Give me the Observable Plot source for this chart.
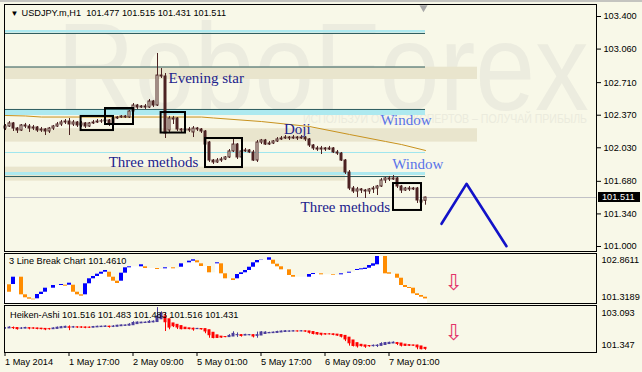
<!DOCTYPE html>
<html><head><meta charset="utf-8">
<script src="https://cdn.jsdelivr.net/npm/d3@7"></script>
<script src="https://cdn.jsdelivr.net/npm/@observablehq/plot@0.6"></script>
<style>
html,body{margin:0;padding:0;background:#f8f8e8;}
#wrap{position:relative;width:642px;height:372px;overflow:hidden;background:#f8f8e8;font-family:"Liberation Sans",Arial,sans-serif;}
#wrap > *{position:absolute;left:0;}
.wm{color:#ececdf;white-space:nowrap;line-height:1;}
</style></head>
<body><div id="wrap"></div>
<script>
// ---------------- data ----------------
const symbolHeader = "USDJPY.m,H1  101.477 101.515 101.431 101.511";
const lbHeader = "3 Line Break Chart 101.4610";
const haHeader = "Heiken-Ashi 101.516 101.483 101.483 101.516 101.431";
const tickBars = [0, 16, 32, 48, 64, 80, 96];
const tickLabels = ["1 May 2014", "1 May 17:00", "2 May 09:00", "5 May 01:00", "5 May 17:00", "6 May 09:00", "7 May 01:00"];
const priceTicks = [103.400, 103.060, 102.710, 102.370, 102.030, 101.680, 101.340, 101.000];
const lbScale = [102.8611, 101.3189];
const haScale = [103.093, 101.347];
const lastPrice = 101.511;

const open = [
102.231,102.252,102.284,102.231,102.210,102.263,102.252,102.231,102.242,102.210,
102.221,102.200,102.231,102.252,102.273,102.294,102.304,102.273,102.294,102.263,
102.284,102.252,102.284,102.294,102.304,102.306,102.315,102.284,102.336,102.346,
102.357,102.346,102.409,102.471,102.450,102.461,102.450,102.513,102.471,102.784,
102.774,102.210,102.325,102.336,102.221,102.210,102.221,102.190,102.231,102.221,
102.200,102.085,101.897,101.877,101.897,101.908,101.929,101.992,102.064,101.929,
101.992,102.002,101.981,101.897,102.085,102.106,102.064,102.075,102.096,102.117,
102.127,102.137,102.127,102.137,102.127,102.137,102.117,102.054,102.023,102.012,
102.023,102.012,102.023,101.981,101.970,101.897,101.772,101.605,101.574,101.595,
101.584,101.574,101.595,101.605,101.626,101.689,101.710,101.699,101.710,101.626,
101.584,101.605,101.595,101.605,101.480,101.477];
const high = [
102.273,102.304,102.294,102.242,102.273,102.284,102.273,102.263,102.252,102.242,
102.231,102.242,102.263,102.294,102.315,102.325,102.336,102.315,102.304,102.304,
102.294,102.294,102.315,102.325,102.325,102.336,102.325,102.346,102.357,102.367,
102.367,102.419,102.492,102.482,102.471,102.482,102.534,102.524,103.014,102.857,
102.805,102.357,102.357,102.346,102.231,102.231,102.242,102.252,102.242,102.231,
102.210,102.096,101.908,101.918,101.929,101.939,102.012,102.117,102.075,102.002,
102.023,102.012,102.002,102.106,102.117,102.117,102.096,102.106,102.137,102.148,
102.158,102.148,102.158,102.148,102.158,102.148,102.127,102.064,102.044,102.044,
102.033,102.044,102.033,102.002,101.981,101.908,101.793,101.626,101.616,101.605,
101.595,101.605,101.626,101.637,101.710,101.720,101.731,101.741,101.720,101.637,
101.616,101.626,101.616,101.616,101.490,101.515];
const low = [
102.210,102.242,102.200,102.179,102.200,102.231,102.190,102.210,102.190,102.190,
102.158,102.179,102.210,102.242,102.252,102.273,102.158,102.252,102.242,102.242,
102.231,102.242,102.273,102.284,102.284,102.294,102.252,102.273,102.325,102.336,
102.336,102.336,102.398,102.430,102.440,102.430,102.440,102.450,102.461,102.753,
102.127,102.190,102.273,102.200,102.190,102.200,102.190,102.137,102.200,102.179,
102.044,101.877,101.856,101.866,101.877,101.897,101.918,101.981,101.908,101.918,
101.981,101.970,101.887,101.877,102.064,102.054,102.054,102.064,102.085,102.106,
102.117,102.106,102.117,102.106,102.117,102.096,102.033,102.002,101.992,101.960,
101.992,102.002,101.970,101.950,101.887,101.751,101.584,101.553,101.511,101.553,
101.501,101.543,101.553,101.532,101.616,101.657,101.678,101.689,101.605,101.553,
101.574,101.574,101.584,101.449,101.449,101.431];
const close = [
102.252,102.284,102.231,102.210,102.263,102.252,102.231,102.242,102.210,102.221,
102.200,102.231,102.252,102.273,102.294,102.304,102.273,102.294,102.263,102.284,
102.252,102.284,102.294,102.304,102.306,102.315,102.284,102.336,102.346,102.357,
102.346,102.409,102.471,102.450,102.461,102.450,102.513,102.471,102.784,102.774,
102.179,102.336,102.336,102.221,102.210,102.221,102.210,102.231,102.221,102.200,
102.064,101.897,101.877,101.897,101.908,101.929,101.992,102.064,101.929,101.992,
102.002,101.981,101.897,102.085,102.106,102.064,102.075,102.096,102.117,102.127,
102.137,102.127,102.137,102.127,102.137,102.117,102.054,102.023,102.012,102.023,
102.012,102.023,101.981,101.970,101.897,101.772,101.605,101.574,101.595,101.584,
101.574,101.595,101.605,101.626,101.689,101.710,101.699,101.710,101.626,101.584,
101.605,101.595,101.605,101.480,101.459,101.511];

// moving average (read at knots)
const maBar = [0, 5, 9, 49, 52, 64, 76, 86, 95, 99, 105];
const maVal = [102.367, 102.362, 102.351, 102.351, 102.341, 102.304, 102.252, 102.169, 102.096, 102.064, 102.002];

// support / resistance drawing objects
const levelLines = [103.223, 102.873, 102.430, 101.730];
const cyanTop = [103.254, 102.424, 101.772];
const cyanBottom = [103.228, 102.367, 101.741];
const cyanThin = [101.981];
const levelEndBar = 105;
const shadeTop = [102.871, 102.229, 101.828];
const shadeBottom = [102.743, 102.089, 101.682];
const shadeEndBar = [118, 118, 85];
const shiftMarkBar = 104.5;

// pattern boxes
const boxX1 = [18.9, 25, 38.9, 50, 97];
const boxX2 = [27, 32, 45, 59.25, 104];
const boxTop = [102.357, 102.440, 102.398, 102.127, 101.657];
const boxBottom = [102.210, 102.273, 102.184, 101.824, 101.376];

// annotations
const noteText = ["Evening star", "Doji", "Three methods", "Three methods", "Window", "Window"];
const noteBar = [40.75, 69.6, 25.8, 73.75, 93.75, 96.7];
const notePrice = [102.754, 102.226, 101.885, 101.408, 102.323, 101.861];
const noteKind = ["pattern", "pattern", "pattern", "pattern", "gap", "gap"];

// forecast zigzag
const fcBar = [109, 115.25, 125.25];
const fcPrice = [101.237, 101.654, 101.003];

// 3 line break (1 = up line, -1 = down line, 0 = no new line)
const lbDir = [
0,-1,1,0,-1,-1,-1,-1,1,1,
1,0,1,0,1,-1,1,-1,-1,-1,
1,1,1,1,1,1,-1,-1,-1,1,
1,1,0,0,1,-1,0,0,-1,0,
1,0,-1,0,1,0,1,1,-1,-1,
0,-1,0,1,-1,-1,0,-1,1,1,
1,1,1,1,1,0,1,-1,-1,-1,
0,-1,-1,0,0,0,1,1,0,-1,
0,0,-1,0,1,0,1,0,1,1,
1,1,1,1,0,-1,-1,0,-1,-1,
-1,-1,-1,-1,-1,-1];
const lbHi = [
101.896,101.896,102.130,102.130,102.130,101.587,101.495,101.452,101.597,101.667,
101.791,101.791,101.874,101.874,101.905,101.883,101.945,101.883,101.667,101.587,
101.927,102.081,102.152,102.223,102.284,102.337,102.284,102.130,102.007,102.254,
102.420,102.451,102.451,102.451,102.513,102.451,102.398,102.398,102.398,102.368,
102.420,102.420,102.420,102.389,102.543,102.543,102.624,102.667,102.636,102.543,
102.460,102.460,102.266,102.574,102.543,102.235,102.081,102.081,102.213,102.266,
102.337,102.438,102.574,102.645,102.654,102.654,102.729,102.654,102.531,102.451,
102.358,102.358,102.183,102.130,102.130,102.130,102.213,102.244,102.244,102.235,
102.204,102.204,102.213,102.192,102.235,102.235,102.284,102.284,102.368,102.389,
102.408,102.491,102.543,102.769,102.769,102.769,102.266,102.223,102.223,102.099,
101.874,101.812,101.791,101.618,101.566,101.513];
const lbLo = [
101.896,101.667,101.905,102.130,101.587,101.495,101.452,101.433,101.464,101.597,
101.667,101.791,101.791,101.874,101.874,101.853,101.883,101.667,101.587,101.545,
101.587,101.927,102.081,102.152,102.223,102.284,102.130,102.007,101.936,102.007,
102.254,102.420,102.451,102.451,102.451,102.398,102.398,102.398,102.368,102.368,
102.389,102.420,102.389,102.389,102.438,102.543,102.574,102.624,102.574,102.460,
102.460,102.266,102.266,102.543,102.235,102.081,102.081,102.028,102.081,102.213,
102.266,102.337,102.438,102.574,102.645,102.654,102.654,102.531,102.451,102.358,
102.358,102.183,102.130,102.130,102.130,102.130,102.130,102.213,102.244,102.204,
102.204,102.204,102.192,102.192,102.204,102.235,102.254,102.284,102.337,102.358,
102.368,102.408,102.469,102.513,102.769,102.235,102.223,102.223,102.099,101.874,
101.812,101.782,101.618,101.566,101.513,101.461];

// ---------------- rendering ----------------
const BG = "#f8f8e8";
const CANDLE = "#4c2222";
const font = "'Liberation Sans', Arial, sans-serif";
const serif = "'Liberation Serif', 'Times New Roman', serif";
const xDomain = [-0.25, 147.75];
const baseStyle = {fontFamily: font, fontSize: "9.2px", background: "transparent", color: "black", overflow: "visible"};
const wrap = document.getElementById("wrap");

function place(el, top, left) {
  el.style.position = "absolute";
  el.style.left = (left || 0) + "px";
  el.style.top = top + "px";
  wrap.appendChild(el);
  return el;
}

// top strip of the terminal window
const strip = document.createElement("div");
Object.assign(strip.style, {width: "642px", height: "2px", background: "#c4c4c0"});
place(strip, 0);

// watermark (background decoration)
const wm = document.createElement("div");
wm.className = "wm";
wm.textContent = "RoboForex";
Object.assign(wm.style, {fontSize: "125px", fontFamily: font, transform: "scaleX(0.86)", transformOrigin: "left top"});
place(wm, 4, 57);
const tag = document.createElement("div");
tag.className = "wm";
tag.textContent = "ИСПОЛЬЗУЙ ОПЫТ ЭКСПЕРТОВ – ПОЛУЧАЙ ПРИБЫЛЬ";
Object.assign(tag.style, {fontSize: "12px", fontFamily: font, color: "#ebebdd", transformOrigin: "left top"});
place(tag, 113, 303);
const tw = tag.getBoundingClientRect().width;
tag.style.transform = "scaleX(" + (284 / tw) + ")";

const bars = d3.range(close.length).map(i => ({i, o: open[i], h: high[i], l: low[i], c: close[i]}));
const shades = shadeTop.map((t, k) => ({t, b: shadeBottom[k], e: shadeEndBar[k]}));
const cyans = cyanTop.map((t, k) => ({t, b: cyanBottom[k]}));
const boxes = boxX1.map((x1, k) => ({x1, x2: boxX2[k], t: boxTop[k], b: boxBottom[k]}));
const notes = noteText.map((s, k) => ({s, x: noteBar[k], y: notePrice[k], kind: noteKind[k]}));
const ma = maBar.map((x, k) => ({x, y: maVal[k]}));
const fc = fcBar.map((x, k) => ({x, y: fcPrice[k]}));

const main = Plot.plot({
  width: 642, height: 252,
  marginLeft: 4, marginRight: 46, marginTop: 4, marginBottom: 1,
  style: baseStyle,
  x: {domain: xDomain, axis: null, label: null},
  y: {domain: [100.9478, 103.5253], axis: null, label: null},
  marks: [
    Plot.rect(shades, {x1: -0.25, x2: "e", y1: "b", y2: "t", fill: "#e9e5cd"}),
    Plot.rect(cyans, {x1: -0.25, x2: levelEndBar, y1: "b", y2: "t", fill: "#ade9ef"}),
    Plot.ruleY(cyanThin, {x1: -0.25, x2: levelEndBar, stroke: "#9fe6ee", strokeWidth: 1}),
    Plot.ruleY(levelLines, {x1: -0.25, x2: levelEndBar, stroke: "#2c5a5c", strokeWidth: 1}),
    Plot.ruleY([lastPrice], {stroke: "#c0c0c6", strokeWidth: 1}),
    Plot.line(ma, {x: "x", y: "y", stroke: "#c8921e", strokeWidth: 1}),
    Plot.ruleX(bars, {x: "i", y1: "l", y2: "h", stroke: CANDLE, strokeWidth: 1}),
    Plot.rect(bars, {x1: d => d.i - 0.25, x2: d => d.i + 0.25, y1: "o", y2: "c",
      fill: d => d.c >= d.o ? BG : CANDLE, stroke: CANDLE, strokeWidth: 1}),
    Plot.rect(boxes, {x1: "x1", x2: "x2", y1: "b", y2: "t", fill: "none", stroke: "black", strokeWidth: 2}),
    Plot.text(notes, {x: "x", y: "y", text: "s", textAnchor: "start", lineAnchor: "middle",
      fontFamily: serif, fontSize: 15, fill: d => d.kind === "gap" ? "#5a74e8" : "#22228c"}),
    Plot.line(fc, {x: "x", y: "y", stroke: "#1212c8", strokeWidth: 2.6}),
    Plot.dot([shiftMarkBar], {x: d => d, frameAnchor: "top", dy: 3, symbol: "triangle", rotate: 180, r: 3, fill: "#a8a8a8", stroke: "none"}),
    Plot.axisY(priceTicks, {anchor: "right", tickSize: 4, tickPadding: 3, tickFormat: d3.format(".3f"), label: null}),
    Plot.text(["▼"], {frameAnchor: "top-left", dx: 6, dy: 8.5, fontSize: 8, textAnchor: "start", lineAnchor: "middle"}),
    Plot.text([symbolHeader], {frameAnchor: "top-left", dx: 17, dy: 8.7, textAnchor: "start", lineAnchor: "middle"}),
    Plot.frame({stroke: "black"})
  ]
});
place(main, 0);

// price label box
const py = main.scale("y").apply(lastPrice);
const pbox = document.createElement("div");
pbox.textContent = d3.format(".3f")(lastPrice);
Object.assign(pbox.style, {background: "black", color: "white", fontSize: "9.2px", fontFamily: font,
  width: "42px", height: "10px", lineHeight: "10px", paddingLeft: "4px", boxSizing: "border-box"});
place(pbox, py - 5, 598);

// 3 line break panel
const lb = d3.range(lbDir.length).map(i => ({i, d: lbDir[i], hi: lbHi[i], lo: lbLo[i]}));
const panel2 = Plot.plot({
  width: 642, height: 52,
  marginLeft: 4, marginRight: 46, marginTop: 1, marginBottom: 1,
  style: baseStyle,
  x: {domain: xDomain, axis: null, label: null},
  y: {domain: [lbScale[1], lbScale[0]], axis: null, label: null},
  marks: [
    Plot.rect(lb, {x1: d => d.i - 0.5, x2: d => d.i + 0.5, y1: lbScale[1], y2: "lo", fill: "white"}),
    Plot.rect(lb.filter(d => d.d !== 0), {x1: d => d.i - 0.5, x2: d => d.i + 0.5, y1: "lo", y2: "hi",
      fill: d => d.d > 0 ? "#0000ff" : "#ff8c00"}),
    Plot.text([lbHeader], {frameAnchor: "top-left", dx: 4.5, dy: 8, textAnchor: "start", lineAnchor: "middle"}),
    Plot.text([lbScale[0].toFixed(4)], {frameAnchor: "top-right", dx: 5, dy: 7, textAnchor: "start", lineAnchor: "middle"}),
    Plot.text([lbScale[1].toFixed(4)], {frameAnchor: "bottom-right", dx: 5, dy: -6, textAnchor: "start", lineAnchor: "middle"}),
    Plot.text(["⇩"], {x: 112, frameAnchor: "middle", dy: 4, fontSize: 22, fill: "#e3336a", fontFamily: "'DejaVu Sans'"}),
    Plot.frame({stroke: "black"})
  ]
});
place(panel2, 252);

// Heiken-Ashi panel (computed from the candles above)
const ha = [];
for (let i = 0; i < close.length; i++) {
  const c = (open[i] + high[i] + low[i] + close[i]) / 4;
  const o = i === 0 ? (open[0] + close[0]) / 2 : (ha[i - 1].o + ha[i - 1].c) / 2;
  ha.push({i, o, c, h: Math.max(high[i], o, c), l: Math.min(low[i], o, c)});
}
const haColor = d => d.c >= d.o ? "#4b3d9c" : "#ff0000";
const panel3 = Plot.plot({
  width: 642, height: 68,
  marginLeft: 4, marginRight: 46, marginTop: 1, marginBottom: 20,
  style: baseStyle,
  x: {domain: xDomain, axis: null, label: null},
  y: {domain: [haScale[1], haScale[0]], axis: null, label: null},
  marks: [
    Plot.ruleX(ha, {x: "i", y1: "l", y2: "h", stroke: haColor, strokeWidth: 1}),
    Plot.rect(ha, {x1: d => d.i - 0.25, x2: d => d.i + 0.25, y1: "o", y2: "c", fill: haColor, stroke: haColor, strokeWidth: 1}),
    Plot.text([haHeader], {frameAnchor: "top-left", dx: 5.5, dy: 9.5, textAnchor: "start", lineAnchor: "middle"}),
    Plot.text([haScale[0].toFixed(3)], {frameAnchor: "top-right", dx: 5, dy: 8, textAnchor: "start", lineAnchor: "middle"}),
    Plot.text([haScale[1].toFixed(3)], {frameAnchor: "bottom-right", dx: 5, dy: -7, textAnchor: "start", lineAnchor: "middle"}),
    Plot.text(["⇩"], {x: 112, frameAnchor: "middle", dy: 4, fontSize: 22, fill: "#e3336a", fontFamily: "'DejaVu Sans'"}),
    Plot.axisX(tickBars, {anchor: "bottom", tickSize: 4, tickPadding: 2, textAnchor: "start", dx: -0.5, label: null,
      tickFormat: (d) => tickLabels[tickBars.indexOf(d)]}),
    Plot.frame({stroke: "black"})
  ]
});
place(panel3, 304);
</script>
</body></html>
